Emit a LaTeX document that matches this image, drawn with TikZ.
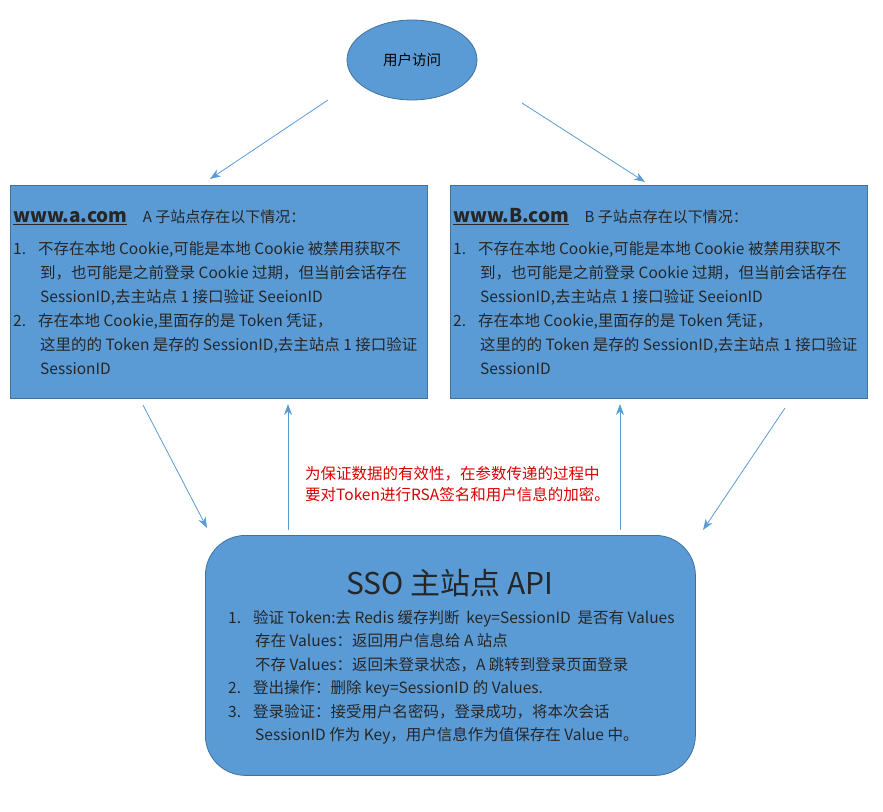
\documentclass[tikz,border=0pt]{standalone}
\usepackage{fontspec}
\setmainfont{Noto Sans CJK SC}
\usetikzlibrary{shapes.geometric,arrows.meta}
\definecolor{boxfill}{HTML}{5B9BD5}
\definecolor{boxline}{HTML}{41719C}
\definecolor{arrowc}{HTML}{5B9BD5}
\tikzset{
  sitebox/.style={draw=boxline, fill=boxfill, line width=0.8pt, anchor=north west, minimum width=417pt, minimum height=213pt, inner sep=0pt},
  flow/.style={draw=arrowc, line width=0.8pt, -{Stealth[length=11pt,width=8pt]}},
  body/.style={font=\fontsize{15.5}{24}\selectfont, align=left, anchor=north west, inner sep=0pt, text=black!85}
}
\begin{document}
\begin{tikzpicture}[x=1pt,y=-1pt]
\useasboundingbox (0,0) rectangle (883,811);
% 用户访问
\node[ellipse, draw=boxline, fill=boxfill, line width=0.8pt, minimum width=130pt, minimum height=80pt, font=\fontsize{14.5}{16}\selectfont] (user) at (412,60) {用户访问};
% 子站点
\node[sitebox] (siteA) at (10,185) {};
\node[sitebox] (siteB) at (450,185) {};
\foreach \s/\n/\l in {siteA/www.a.com/A, siteB/www.B.com/B}{
  \node[body, anchor=west] at ([shift={(3,32)}]\s.north west) {{\fontsize{19}{20}\selectfont\bfseries\underline{\n}}\quad\fontsize{15}{16}\selectfont\l\ 子站点存在以下情况：};
  \node[body] at ([shift={(3,56)}]\s.north west) {%
    1.\hspace{12pt}不存在本地 Cookie,可能是本地 Cookie 被禁用获取不\\
    \hspace{27pt}到，也可能是之前登录 Cookie 过期，但当前会话存在\\
    \hspace{27pt}SessionID,去主站点 1 接口验证 SeeionID\\
    2.\hspace{12pt}存在本地 Cookie,里面存的是 Token 凭证，\\
    \hspace{27pt}这里的的 Token 是存的 SessionID,去主站点 1 接口验证\\
    \hspace{27pt}SessionID};
}
% SSO 主站点
\node[draw=boxline, fill=boxfill, line width=0.8pt, rounded corners=40pt, anchor=north west, minimum width=490pt, minimum height=240pt] (sso) at (205,535) {};
\node[font=\fontsize{30}{32}\selectfont, text=black!85] (ssotitle) at (450,583) {SSO 主站点 API};
\node[body, font=\fontsize{15.5}{23.5}\selectfont] (ssotext) at (228,610) {%
  1.\hspace{12pt}验证 Token:去 Redis 缓存判断\ \ key=SessionID\ \ 是否有 Values\\
  \hspace{27pt}存在 Values：返回用户信息给 A 站点\\
  \hspace{27pt}不存 Values：返回未登录状态，A 跳转到登录页面登录\\
  2.\hspace{12pt}登出操作：删除 key=SessionID 的 Values.\\
  3.\hspace{12pt}登录验证：接受用户名密码，登录成功，将本次会话\\
  \hspace{27pt}SessionID 作为 Key，用户信息作为值保存在 Value 中。};
% 说明
\node[body, text=red!85!black, font=\fontsize{15.5}{21}\selectfont] (note) at (305,466) {为保证数据的有效性，在参数传递的过程中\\要对Token进行RSA签名和用户信息的加密。};
% 连线
\coordinate (u1) at (328,100); \coordinate (a1) at (210,179);
\coordinate (u2) at (522,103); \coordinate (b1) at (645,182);
\coordinate (a2) at (143,405); \coordinate (s1) at (207,528);
\coordinate (s2) at (288,530); \coordinate (a3) at (288,404);
\coordinate (s3) at (620,530); \coordinate (b2) at (620,404);
\coordinate (b3) at (785,408); \coordinate (s4) at (703,530);
\draw[flow] (u1) -- (a1);
\draw[flow] (u2) -- (b1);
\draw[flow] (a2) -- (s1);
\draw[flow] (s2) -- (a3);
\draw[flow] (s3) -- (b2);
\draw[flow] (b3) -- (s4);
\end{tikzpicture}
\end{document}
